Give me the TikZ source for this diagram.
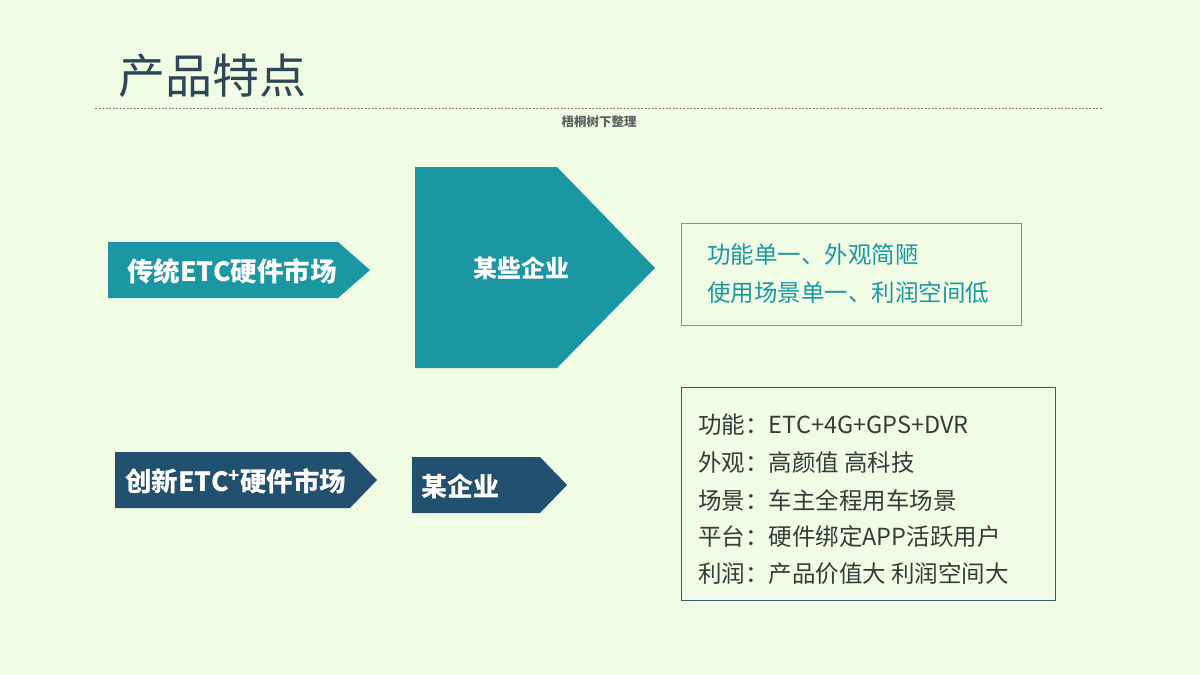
\documentclass[tikz,border=0pt]{standalone}
\usepackage{fontspec}
\newfontfamily\cjk{Noto Sans CJK SC}
\definecolor{bg}{HTML}{F0FCE3}
\definecolor{teal}{HTML}{1A97A3}
\definecolor{navy}{HTML}{22506F}
\definecolor{ttl}{HTML}{2E4756}
\definecolor{txt}{HTML}{3A3A3A}
\tikzset{lbl/.style={text=white,font=\cjk\bfseries\fontsize{26.5pt}{30pt}\selectfont,anchor=west,inner sep=0},
 ln/.style={anchor=west,inner sep=0,font=\cjk\fontsize{23.5pt}{28pt}\selectfont}}
\begin{document}
\begin{tikzpicture}[x=1pt,y=-1pt]
\fill[bg] (0,0) rectangle (1200,675);
\useasboundingbox (0,0) rectangle (1200,675);
\node[anchor=west,inner sep=0,text=ttl,font=\cjk\fontsize{47pt}{54pt}\selectfont] (title) at (118,76) {产品特点};
\coordinate (dl) at (95,108); \coordinate (dr) at (1103,108);
\draw[gray,dash pattern=on 2pt off 1.5pt,line width=0.8pt] (dl) -- (dr);
\node[inner sep=0,text=txt!80,font=\cjk\bfseries\fontsize{12.5pt}{14pt}\selectfont] (note) at (599,122) {梧桐树下整理};
\fill[teal] (108,242) -- (338,242) -- (370,270) -- (338,298) -- (108,298) -- cycle;
\node[lbl] (a1) at (127,271) {传统ETC硬件市场};
\fill[teal] (415,167) -- (557,167) -- (655,268) -- (557,368) -- (415,368) -- cycle;
\node[lbl,font=\cjk\bfseries\fontsize{24pt}{28pt}\selectfont] (a2) at (473,268) {某些企业};
\draw[teal!80,line width=1pt] (681,223) rectangle (1021,325);
\node[ln,text=teal] (t1) at (707,255) {功能单一、外观简陋};
\node[ln,text=teal] (t2) at (707,293) {使用场景单一、利润空间低};
\fill[navy] (115,452) -- (350,452) -- (377,480) -- (350,508) -- (115,508) -- cycle;
\node[lbl] (b1) at (125,481) {创新ETC\textsuperscript{+}硬件市场};
\fill[navy] (412,457) -- (540,457) -- (567,485) -- (540,513) -- (412,513) -- cycle;
\node[lbl,font=\cjk\bfseries\fontsize{26pt}{30pt}\selectfont] (b2) at (421,486) {某企业};
\draw[navy!80!gray,line width=1pt] (681,387) rectangle (1055,600);
\node[ln,text=txt] (u1) at (698,425) {功能：ETC+4G+GPS+DVR};
\node[ln,text=txt] (u2) at (698,463) {外观：高颜值 高科技};
\node[ln,text=txt] (u3) at (698,500) {场景：车主全程用车场景};
\node[ln,text=txt] (u4) at (698,537) {平台：硬件绑定APP活跃用户};
\node[ln,text=txt] (u5) at (698,574) {利润：产品价值大 利润空间大};
\end{tikzpicture}
\end{document}
